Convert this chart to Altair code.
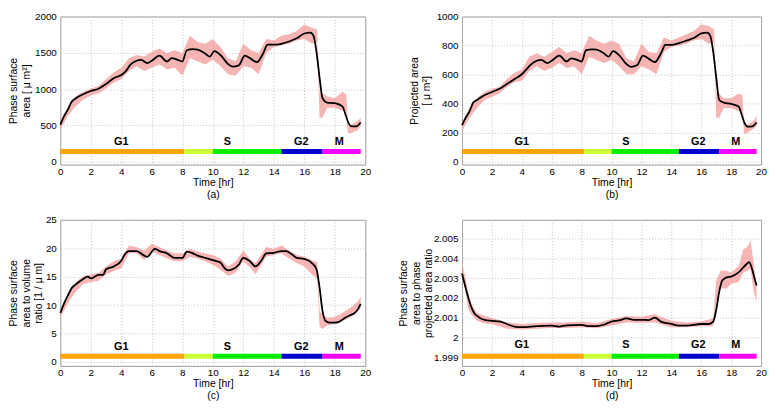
import altair as alt
import pandas as pd

# ---------------- shared phase info ----------------
PHASES = ["G1", "G1/S", "S", "G2", "M"]
PH_START = [0, 8.15, 10, 14.5, 17.2]
PH_END = [8.15, 10, 14.5, 17.2, 19.7]
PH_COLORS = ["#FFA500", "#CCFF33", "#00EE00", "#0000CC", "#FF00FF"]
LABELS = ["G1", "S", "G2", "M"]
LABEL_T = [4.0, 10.95, 15.8, 18.3]
X_TICKS = [0, 2, 4, 6, 8, 10, 12, 14, 16, 18, 20]

# ---------------- panel (a) ----------------
a_t = [0, 0.25, 0.5, 0.75, 1, 1.5, 2, 2.5, 3, 3.5, 4, 4.3, 4.6, 5, 5.3, 5.7, 6, 6.5, 7, 7.3, 7.7, 8, 8.3, 8.7,
       9, 9.5, 9.8, 10.1, 10.5, 11, 11.3, 11.7, 12.1, 12.5, 12.9, 13.3, 13.6, 14, 14.5, 15, 15.5, 16, 16.4, 16.6,
       16.8, 17, 17.2, 17.5, 18, 18.5, 18.7, 18.9, 19.1, 19.4, 19.7]
a_v = [509, 628, 717, 827, 870, 929, 973, 1004, 1071, 1150, 1195, 1248, 1336, 1390, 1403, 1358, 1390, 1460, 1380,
       1425, 1403, 1380, 1535, 1549, 1544, 1491, 1447, 1522, 1469, 1345, 1310, 1327, 1460, 1416, 1372, 1491, 1611,
       1611, 1624, 1655, 1699, 1766, 1779, 1735, 1513, 1159, 872, 814, 805, 761, 650, 531, 487, 487, 540]
a_ct = [0, 0.5, 1, 1.5, 2, 2.5, 3, 3.5, 4, 4.5, 5, 5.5, 6, 6.5, 7, 7.5, 8, 8.5, 9, 9.5, 10, 10.5, 11, 11.5, 12,
        12.5, 13, 13.5, 14, 14.5, 15, 15.5, 16, 16.5, 16.85, 17.0, 17.2, 17.5, 18, 18.5, 18.75, 18.85, 19, 19.5, 19.7]
a_lo = [440, 632, 764, 852, 910, 940, 1007, 1086, 1139, 1249, 1315, 1249, 1294, 1338, 1271, 1294, 1183, 1426, 1382,
        1338, 1404, 1315, 1205, 1183, 1315, 1294, 1205, 1492, 1580, 1603, 1625, 1669, 1691, 1625, 1650, 600, 609,
        742, 742, 698, 700, 390, 388, 433, 499]
a_hi = [565, 764, 897, 963, 1007, 1042, 1139, 1228, 1294, 1426, 1470, 1448, 1514, 1559, 1492, 1537, 1492, 1735,
        1647, 1625, 1691, 1580, 1426, 1382, 1625, 1537, 1492, 1691, 1669, 1735, 1757, 1801, 1890, 1845, 1820, 950,
        940, 897, 874, 963, 930, 560, 499, 565, 609]

# ---------------- panel (b) ----------------
b_t = a_t
b_v = [252, 303, 347, 407, 425, 458, 480, 502, 535, 568, 602, 635, 668, 695, 701, 679, 695, 730, 690, 712, 701,
       690, 768, 774, 772, 745, 723, 761, 734, 672, 653, 664, 730, 708, 686, 745, 805, 805, 816, 834, 852, 883, 889,
       867, 757, 580, 425, 407, 398, 380, 325, 265, 241, 243, 270]
b_ct = [0, 0.5, 1, 1.5, 2, 2.5, 3, 3.5, 4, 4.5, 5, 5.5, 6, 6.5, 7, 7.5, 8, 8.5, 9, 9.5, 10, 10.5, 11, 11.5, 12,
        12.5, 13, 13.5, 14, 14.5, 15, 15.5, 16, 16.5, 16.85, 17.0, 17.2, 17.5, 18, 18.5, 18.75, 18.85, 19, 19.5, 19.7]
b_lo = [210, 303, 370, 425, 447, 469, 514, 547, 557, 624, 657, 624, 646, 680, 646, 657, 602, 723, 701, 680, 701,
        657, 602, 602, 657, 635, 602, 756, 790, 801, 812, 834, 845, 812, 820, 300, 303, 370, 370, 348, 350, 195,
        192, 226, 248]
b_hi = [270, 370, 436, 480, 502, 514, 569, 613, 635, 723, 746, 723, 756, 790, 746, 768, 746, 867, 834, 812, 834,
        812, 713, 690, 812, 756, 746, 856, 834, 856, 878, 900, 945, 934, 910, 475, 469, 436, 436, 469, 460, 280,
        248, 281, 314]

# ---------------- panel (c) ----------------
c_t = [0, 0.25, 0.5, 0.75, 1, 1.5, 1.8, 2, 2.5, 2.8, 3, 3.5, 4, 4.2, 4.5, 5, 5.5, 5.7, 6.2, 6.5, 7, 7.5, 8, 8.3,
       8.7, 9, 9.5, 10, 10.5, 10.8, 11, 11.3, 11.7, 12, 12.4, 12.8, 13.2, 13.5, 14, 14.5, 14.8, 15.2, 15.5, 16,
       16.5, 16.8, 17, 17.2, 17.4, 17.7, 18, 18.3, 18.7, 19, 19.3, 19.5, 19.7]
c_v = [8.6, 10.3, 11.7, 13.0, 13.6, 14.6, 15.0, 14.7, 15.3, 15.3, 16.3, 16.8, 17.8, 18.8, 19.5, 19.5, 18.7, 18.5,
       19.9, 19.5, 19.1, 18.3, 18.3, 19.4, 19.1, 18.7, 18.3, 17.9, 17.5, 16.4, 16.1, 16.3, 17.1, 18.3, 17.8, 16.8,
       17.9, 19.1, 19.2, 19.5, 19.5, 18.9, 18.3, 18.1, 17.4, 16.3, 13.1, 8.9, 7.2, 6.9, 6.9, 7.1, 7.8, 8.2, 8.6,
       9.2, 10.2]
c_ct = [0, 0.5, 1, 1.5, 2, 2.5, 3, 3.5, 4, 4.5, 5, 5.5, 6, 6.5, 7, 7.5, 8, 8.5, 9, 9.5, 10, 10.5, 11, 11.5, 12,
        12.5, 12.8, 13.5, 14, 14.5, 15, 15.5, 16, 16.5, 16.85, 17.0, 17.2, 17.5, 18, 18.5, 19, 19.5, 19.7]
c_lo = [7.8, 10.3, 12.3, 13.7, 14.0, 14.3, 15.4, 16.0, 16.5, 19.1, 19.1, 17.9, 19.4, 18.8, 18.2, 17.7, 17.7, 18.5,
        18.2, 17.7, 17.1, 16.2, 15.1, 15.7, 17.7, 16.5, 15.4, 18.5, 18.8, 19.1, 18.2, 17.4, 16.8, 15.4, 14.6, 6.2,
        5.8, 6.4, 6.7, 7.2, 7.8, 8.9, 9.5]
c_hi = [9.2, 11.7, 14.0, 15.1, 15.4, 15.7, 16.8, 17.7, 18.2, 20.5, 20.2, 19.6, 20.8, 20.2, 19.6, 19.1, 19.1, 19.9,
        19.4, 19.1, 18.8, 18.2, 16.8, 17.7, 19.6, 17.9, 17.4, 20.2, 19.9, 20.5, 19.6, 18.8, 18.5, 17.9, 17.6, 9.0,
        8.4, 7.8, 7.9, 8.6, 9.5, 10.6, 11.5]

# ---------------- panel (d) ----------------
d_t = [0, 0.2, 0.4, 0.6, 0.8, 1, 1.5, 2, 2.5, 3, 3.5, 4, 5, 6, 6.5, 7, 8, 8.5, 9, 9.5, 10, 10.5, 11, 11.5, 12,
       12.5, 12.9, 13.3, 14, 14.5, 15, 16, 16.5, 16.8, 17, 17.2, 17.4, 17.7, 18, 18.5, 19, 19.2, 19.4, 19.6, 19.7]
d_v = [2.00324, 2.00263, 2.00207, 2.00158, 2.00125, 2.00109, 2.00089, 2.00084, 2.00081, 2.00068, 2.00055,
       2.00052, 2.00057, 2.0006, 2.00055, 2.00061, 2.00063, 2.00057, 2.00057, 2.00065, 2.0008, 2.00086, 2.00096,
       2.00089, 2.00089, 2.00088, 2.001, 2.0008, 2.00068, 2.0006, 2.0006, 2.00068, 2.00068, 2.0008, 2.00141,
       2.00231, 2.00288, 2.00304, 2.00308, 2.00329, 2.00369, 2.00381, 2.00345, 2.00288, 2.00263]
d_ct = [0, 0.2, 0.4, 0.6, 1.0, 1.5, 2, 3, 4, 5, 6, 7, 8, 9, 10, 11, 12, 12.9, 14, 15, 16, 16.8, 17.0, 17.3, 17.7,
        18, 18.5, 18.8, 19.1, 19.3, 19.5, 19.7]
d_lo = [2.0033, 2.00247, 2.00149, 2.00117, 2.00084, 2.0007, 2.00068, 2.00044, 2.0004, 2.00044, 2.00048, 2.00048,
        2.00052, 2.00046, 2.0006, 2.00076, 2.00074, 2.00076, 2.00052, 2.00052, 2.00056, 2.00056, 2.0018, 2.00247,
        2.00247, 2.00272, 2.0028, 2.00329, 2.00337, 2.00345, 2.00231, 2.00182]
d_hi = [2.0038, 2.00313, 2.00231, 2.00174, 2.00125, 2.00109, 2.001, 2.00076, 2.00068, 2.00073, 2.00076, 2.00076,
        2.00081, 2.00072, 2.00093, 2.00109, 2.00104, 2.00117, 2.00084, 2.00076, 2.0008, 2.00097, 2.0029, 2.00337,
        2.00337, 2.00329, 2.00362, 2.00443, 2.0046, 2.00492, 2.00378, 2.00264]

FONT = "Liberation Sans"


def panel(line_t, line_v, ct, lo, hi, domain, yticks, yfmt, ytitle, title_x, bar_y, label_y, caption, w, h):
    line_df = pd.DataFrame({"t": line_t, "v": line_v})
    band_df = pd.DataFrame({"t": ct, "v": lo, "hi": hi})
    ph_df = pd.DataFrame({"phase": PHASES, "t": PH_START, "t2": PH_END, "v": [bar_y] * len(PHASES)})
    lab_df = pd.DataFrame({"label": LABELS, "t": LABEL_T, "v": [label_y] * len(LABELS)})

    xscale = alt.Scale(domain=[0, 20], nice=False, zero=False)
    yscale = alt.Scale(domain=domain, nice=False, zero=False)
    xaxis = alt.Axis(values=X_TICKS, tickCount=40, title=["Time [hr]", caption], format="d",
                     labelPadding=2, titlePadding=1, titleLineHeight=12,
                     labelOverlap=False, labelFlush=False)
    yaxis = alt.Axis(values=yticks, tickCount=40, format=yfmt, title=ytitle, titleX=title_x, titleY=h / 2,
                     titleAngle=270, titleAlign="center", titleBaseline="top",
                     titleLineHeight=12.5, labelPadding=4,
                     labelOverlap=False, labelFlush=False)

    band = alt.Chart(band_df).mark_area(color="#f3a3a3", opacity=0.8).encode(
        x=alt.X("t:Q", scale=xscale, axis=xaxis),
        y=alt.Y("v:Q", scale=yscale, axis=yaxis),
        y2="hi:Q",
    )
    line = alt.Chart(line_df).mark_line(color="black", strokeWidth=1.8, interpolate="monotone").encode(
        x="t:Q", y="v:Q"
    )
    bars = alt.Chart(ph_df).mark_rule(strokeWidth=5, strokeCap="butt").encode(
        x="t:Q", x2="t2:Q", y="v:Q",
        color=alt.Color("phase:N", scale=alt.Scale(domain=PHASES, range=PH_COLORS), legend=None),
    )
    labels = alt.Chart(lab_df).mark_text(fontWeight="bold", fontSize=11, font=FONT, color="black").encode(
        x="t:Q", y="v:Q", text="label:N"
    )
    return alt.layer(band, line, bars, labels).properties(width=w, height=h)


pa = panel(a_t, a_v, a_ct, a_lo, a_hi, [-40, 2000], [0, 500, 1000, 1500, 2000], "d",
           ["Phase surface", "area [ μ m²]"], -52, 140, 265, "(a)", 309, 150)
pb = panel(b_t, b_v, b_ct, b_lo, b_hi, [-20, 1000], [0, 200, 400, 600, 800, 1000], "d",
           ["Projected area", "[ μ m²]"], -53, 70, 133, "(b)", 303, 150)
pc = panel(c_t, c_v, c_ct, c_lo, c_hi, [-0.7, 25], [0, 5, 10, 15, 20, 25], "d",
           ["Phase surface", "area to volume", "ratio [1 / μ m]"], -52, 1.0, 2.7, "(c)", 309, 148)
pd_ = panel(d_t, d_v, d_ct, d_lo, d_hi, [1.99856, 2.00595],
            [1.999, 2.0, 2.001, 2.002, 2.003, 2.004, 2.005], ".4~g",
            ["Phase surface", "area to phase", "projected area ratio"], -64, 1.99905, 1.99962, "(d)", 303, 148)

row1 = alt.hconcat(pa, pb, spacing=37).resolve_scale(x="independent", y="independent")
row2 = alt.hconcat(pc, pd_, spacing=26).resolve_scale(x="independent", y="independent")

chart = alt.vconcat(row1, row2, spacing=14).resolve_scale(
    x="independent", y="independent"
).properties(padding=0).configure(font=FONT).configure_view(
    stroke="#999999", strokeWidth=1
).configure_axis(
    grid=True, gridColor="#c4c4c4", gridDash=[1, 2], gridWidth=1,
    ticks=False, domain=False,
    labelFont=FONT, labelFontSize=10, labelColor="#000000",
    titleFont=FONT, titleFontSize=10.5, titleFontWeight="normal", titleColor="#000000",
)

chart.save("out.html", embed_options={"renderer": "svg", "actions": False})
